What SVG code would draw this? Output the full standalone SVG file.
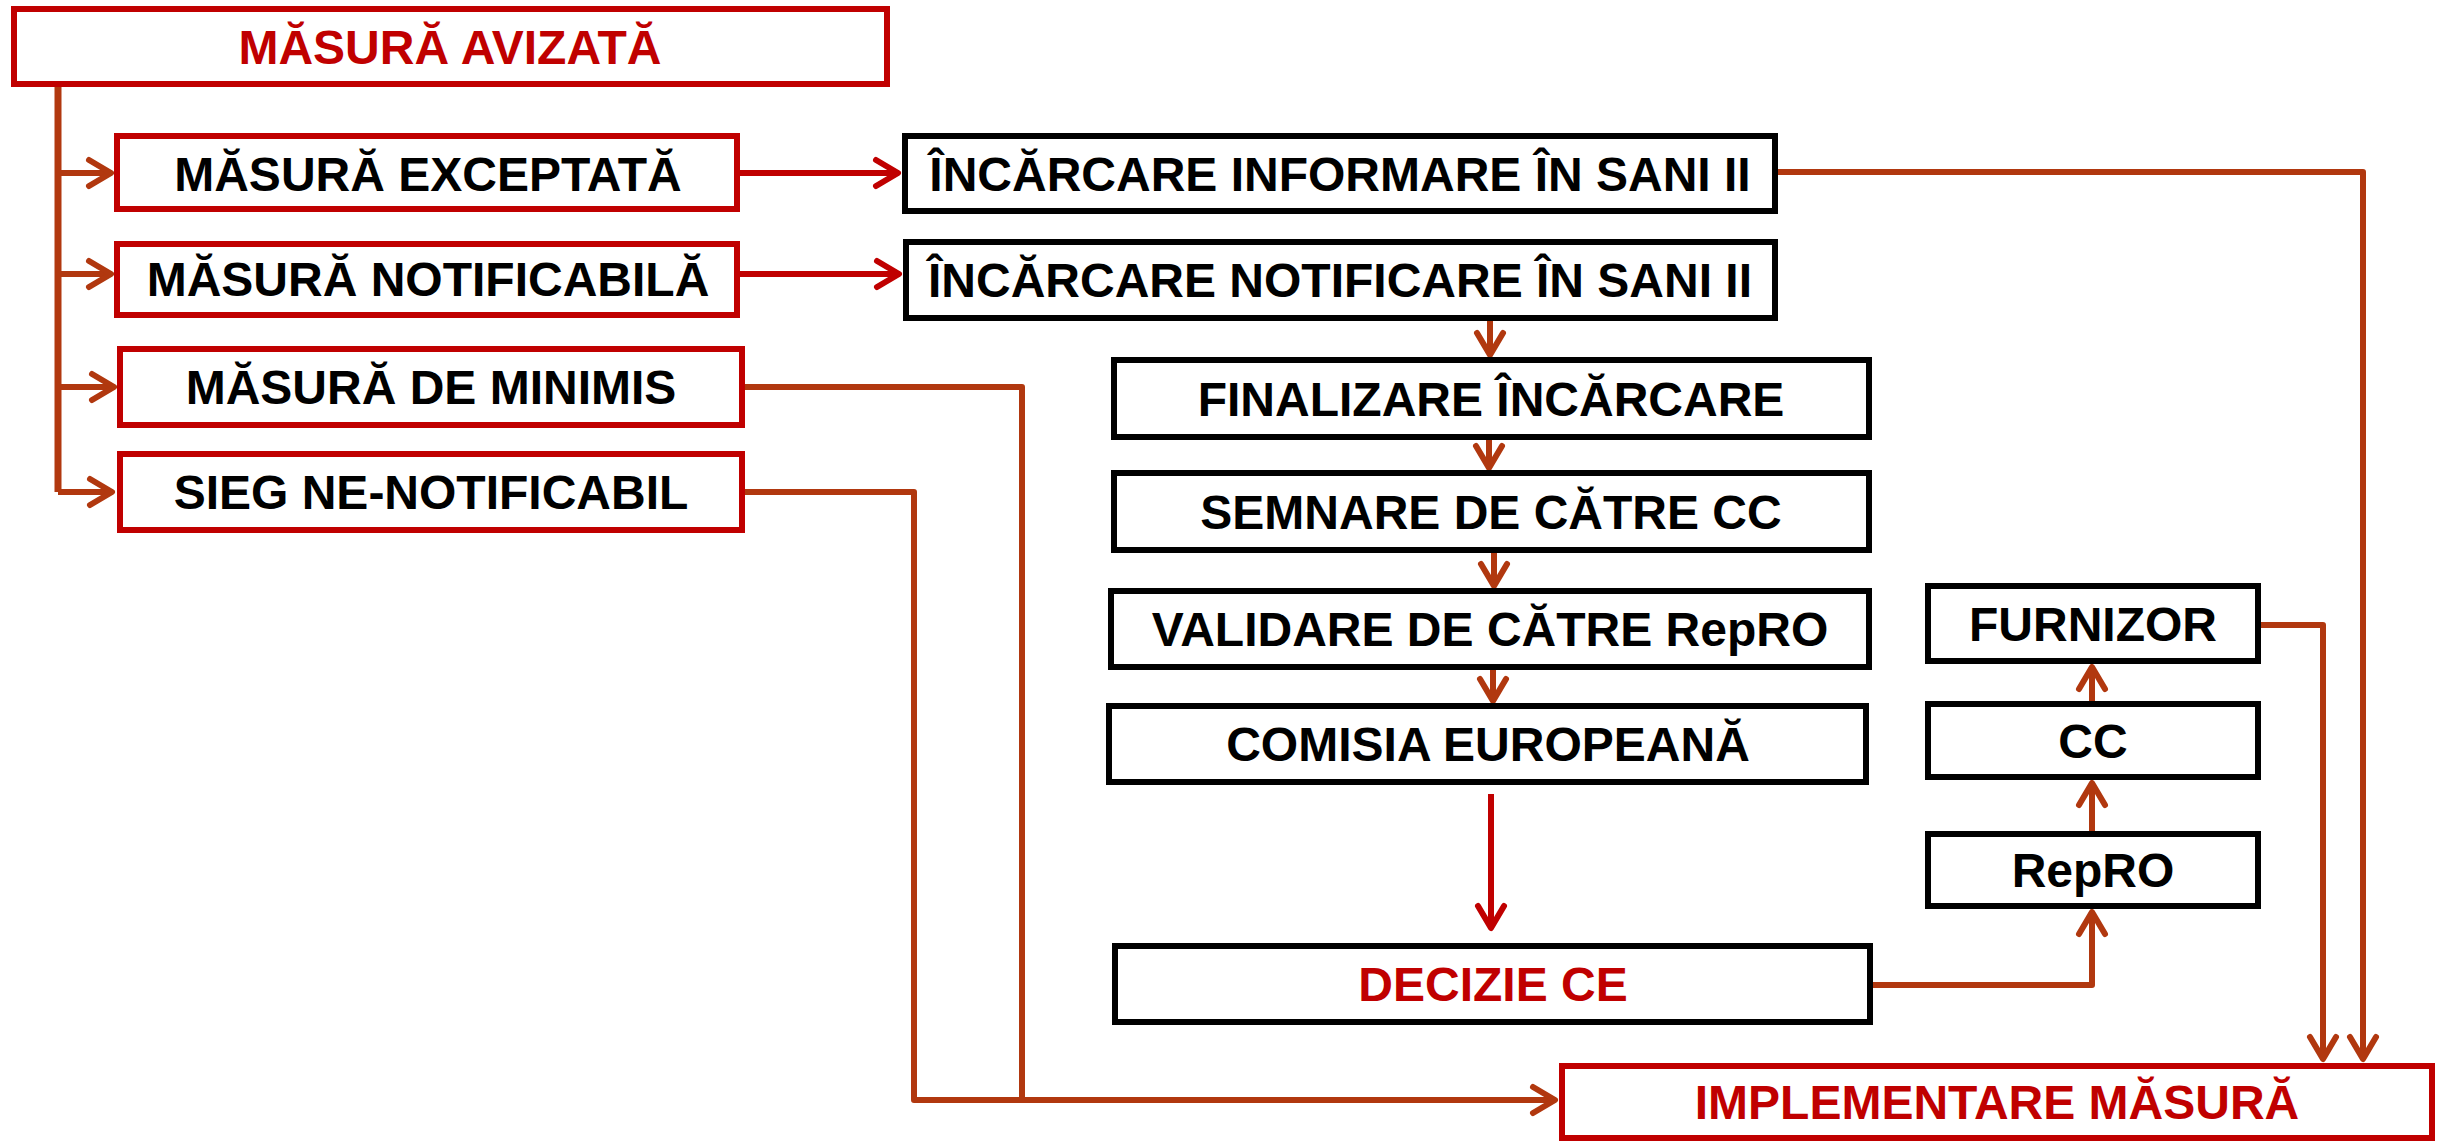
<svg xmlns="http://www.w3.org/2000/svg" width="2450" height="1141" viewBox="0 0 2450 1141">
<defs>
<style>
.rb{fill:#fff;stroke:#C00000;stroke-width:6}
.bb{fill:#fff;stroke:#000;stroke-width:6}
.t{font-family:"Liberation Sans",Arial,sans-serif;font-weight:bold;font-size:48px;text-anchor:middle;fill:#000}
.tr{fill:#C00000}
.cb{fill:none;stroke:#B1380F;stroke-width:6;stroke-linejoin:round}
.cr{fill:none;stroke:#C00000;stroke-width:6;stroke-linejoin:round}
</style>
<marker id="ab" markerUnits="userSpaceOnUse" viewBox="-30 -20 40 40" markerWidth="40" markerHeight="40" refX="0" refY="0" orient="auto">
<path d="M-22,-13 L0,0 L-22,13" fill="none" stroke="#B1380F" stroke-width="6" stroke-linecap="round" stroke-linejoin="round"/>
</marker>
<marker id="ar" markerUnits="userSpaceOnUse" viewBox="-30 -20 40 40" markerWidth="40" markerHeight="40" refX="0" refY="0" orient="auto">
<path d="M-22,-13 L0,0 L-22,13" fill="none" stroke="#C00000" stroke-width="6" stroke-linecap="round" stroke-linejoin="round"/>
</marker>
</defs>
<rect width="2450" height="1141" fill="#fff"/>
<g id="connectors">
<path class="cb" d="M58,87 V492" style="stroke-width:7"/>
<path class="cb" d="M58,492 H112" marker-end="url(#ab)"/>
<path class="cb" d="M58,173 H111" marker-end="url(#ab)"/>
<path class="cb" d="M58,274 H111" marker-end="url(#ab)"/>
<path class="cb" d="M58,387 H114" marker-end="url(#ab)"/>
<path class="cr" d="M740,173 H898" marker-end="url(#ar)"/>
<path class="cr" d="M740,274 H899" marker-end="url(#ar)"/>
<path class="cb" d="M745,387 H1022 V1100"/>
<path class="cb" d="M745,492 H914 V1100 H1555" marker-end="url(#ab)"/>
<path class="cb" d="M1778,172 H2363 V1059" marker-end="url(#ab)"/>
<path class="cb" d="M2261,625 H2323 V1059" marker-end="url(#ab)"/>
<path class="cb" d="M1490,321 V355" marker-end="url(#ab)"/>
<path class="cb" d="M1489,440 V468" marker-end="url(#ab)"/>
<path class="cb" d="M1494,553 V586" marker-end="url(#ab)"/>
<path class="cb" d="M1493,670 V701" marker-end="url(#ab)"/>
<path class="cr" d="M1491,794 V928" marker-end="url(#ar)"/>
<path class="cb" d="M1873,985 H2092 V912" marker-end="url(#ab)"/>
<path class="cb" d="M2092,831 V783" marker-end="url(#ab)"/>
<path class="cb" d="M2092,701 V667" marker-end="url(#ab)"/>
</g>
<g id="n-avizata"><rect class="rb" x="14" y="9" width="873" height="75"/><text class="t tr" x="450" y="64">MĂSURĂ AVIZATĂ</text></g>
<g id="n-exceptata"><rect class="rb" x="117" y="136" width="620" height="73"/><text class="t" x="428" y="191">MĂSURĂ EXCEPTATĂ</text></g>
<g id="n-notificabila"><rect class="rb" x="117" y="244" width="620" height="71"/><text class="t" x="428" y="296">MĂSURĂ NOTIFICABILĂ</text></g>
<g id="n-minimis"><rect class="rb" x="120" y="349" width="622" height="76"/><text class="t" x="431" y="404">MĂSURĂ DE MINIMIS</text></g>
<g id="n-sieg"><rect class="rb" x="120" y="454" width="622" height="76"/><text class="t" x="431" y="509">SIEG NE-NOTIFICABIL</text></g>
<g id="n-informare"><rect class="bb" x="905" y="136" width="870" height="75"/><text class="t" x="1340" y="191">ÎNCĂRCARE INFORMARE ÎN SANI II</text></g>
<g id="n-notificare"><rect class="bb" x="906" y="242" width="869" height="76"/><text class="t" x="1340" y="297">ÎNCĂRCARE NOTIFICARE ÎN SANI II</text></g>
<g id="n-finalizare"><rect class="bb" x="1114" y="360" width="755" height="77"/><text class="t" x="1491" y="416">FINALIZARE ÎNCĂRCARE</text></g>
<g id="n-semnare"><rect class="bb" x="1114" y="473" width="755" height="77"/><text class="t" x="1491" y="529">SEMNARE DE CĂTRE CC</text></g>
<g id="n-validare"><rect class="bb" x="1111" y="591" width="758" height="76"/><text class="t" x="1490" y="646">VALIDARE DE CĂTRE RepRO</text></g>
<g id="n-comisia"><rect class="bb" x="1109" y="706" width="757" height="76"/><text class="t" x="1488" y="761">COMISIA EUROPEANĂ</text></g>
<g id="n-decizie"><rect class="bb" x="1115" y="946" width="755" height="76"/><text class="t tr" x="1493" y="1001">DECIZIE CE</text></g>
<g id="n-furnizor"><rect class="bb" x="1928" y="586" width="330" height="75"/><text class="t" x="2093" y="641">FURNIZOR</text></g>
<g id="n-cc"><rect class="bb" x="1928" y="704" width="330" height="73"/><text class="t" x="2093" y="758">CC</text></g>
<g id="n-repro"><rect class="bb" x="1928" y="834" width="330" height="72"/><text class="t" x="2093" y="887">RepRO</text></g>
<g id="n-implementare"><rect class="rb" x="1562" y="1066" width="870" height="72"/><text class="t tr" x="1997" y="1119">IMPLEMENTARE MĂSURĂ</text></g>
</svg>
